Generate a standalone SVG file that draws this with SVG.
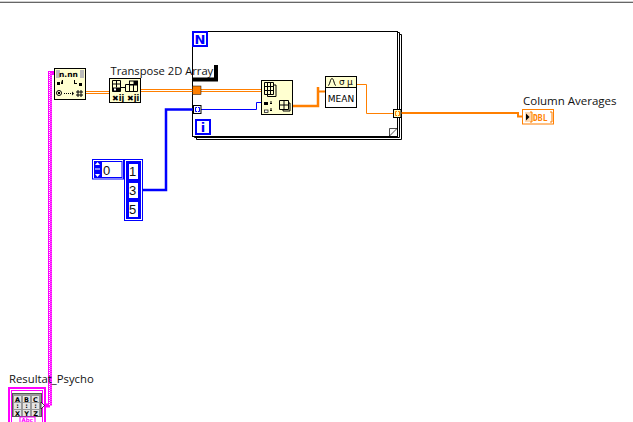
<svg xmlns="http://www.w3.org/2000/svg" width="633" height="422" viewBox="0 0 633 422">
<style>
text{font-family:"Open Sans","Liberation Sans",sans-serif;font-size:11.500px;fill:#111}
.y{fill:#ffffd0;stroke:#000;stroke-width:1}
.g{font-family:"DejaVu Sans","Liberation Sans",sans-serif;font-weight:700;font-size:8px;fill:#000}
.fr{fill:#fff;stroke:#000;stroke-width:1}
.o{fill:none;stroke:#ff7f00}
.b{fill:none;stroke:#0000ff}
.i{fill:none;stroke:#000;stroke-width:1}
.bn{font-family:"DejaVu Sans","Liberation Sans",sans-serif;font-weight:700;font-size:13px;fill:#0000ff;text-anchor:middle}
.num{font-family:"Liberation Sans",sans-serif;font-size:13px;fill:#111;text-anchor:middle}
.s{font-family:"DejaVu Sans","Liberation Sans",sans-serif;font-weight:700;font-size:6.500px;fill:#000;text-anchor:middle}
</style>
<rect width="633" height="422" fill="#fff"/>
<rect x="0" y="1" width="633" height="1" fill="#cfcfcf"/>
<rect x="0" y="2" width="633" height="1" fill="#666"/>

<g id="for-loop">
<path class="fr" d="M196.500 139.500H401.500V34.500H398.500V136.500H196.500Z"/>
<path class="fr" d="M194.500 137.500H399.500V32.500H397.500V135.500H194.500Z"/>
<rect class="fr" x="192.500" y="31.500" width="205" height="105"/>
<path d="M389.500 136V128.500H397Z" fill="#fff"/>
<path d="M389.500 136V128.500H397M389.500 136L397 128.500" fill="none" stroke="#000" stroke-width="0.700"/>
<rect x="193" y="32" width="14" height="14" fill="#fff" stroke="#0000ff" stroke-width="2"/>
<text class="bn" x="200" y="44">N</text>
<rect x="196" y="120" width="14" height="14" fill="#fff" stroke="#0000ff" stroke-width="2"/>
<text class="bn" x="203" y="132">i</text>
<path d="M193 77.500H214V65H218V81.500H193Z" fill="#000"/>
</g>

<g id="connectors">
<path d="M50 71V405.500M50 73H55M42 405.500H50" fill="none" stroke="#ff00ff" stroke-width="4"/>
<path d="M49.500 72V405" fill="none" stroke="#fff" stroke-width="1" stroke-dasharray="1 1"/>
<path d="M51 72V405" fill="none" stroke="#fff" stroke-width="0.600" stroke-dasharray="1 1" stroke-dashoffset="1"/>
<path class="o" d="M85 91.500H109M85 93.500H109M141 89.500H193M141 91.500H193M201 89.500H261M201 91.500H261" stroke-width="1"/>
<path class="b" d="M143 190H166V109.500H193" stroke-width="2.500"/>
<path class="b" d="M201 109.500H256.500V102.500H261" stroke-width="1"/>
<path class="o" d="M293 106H318V87" stroke-width="2.500"/>
<path class="o" d="M318 91.500H325" stroke-width="2"/>
<path class="o" d="M356.500 84.500H366.500V113.500H393.500" stroke-width="1"/>
<path class="o" d="M401 113H518V116.500H522" stroke-width="2"/>
</g>

<g id="read-file">
<rect class="y" x="54.500" y="68.500" width="31" height="31"/>
<rect x="56" y="70" width="28" height="8" fill="#bbb"/>
<rect x="60" y="70" width="20" height="8" fill="#ffffd0"/>
<text class="g" x="59" y="77" style="font-size:7.500px">n.nn</text>
<path d="M57 82h3v3h-3zM62 80h1v4h-2v-1zM74 80h1v3h2v1h-3zM79 83h3v3h-3z" fill="#000"/>
<circle cx="59" cy="93" r="2.500" fill="none" stroke="#000"/>
<rect x="58" y="92" width="2" height="2" fill="#000"/>
<path d="M64 93.500h9" stroke="#000" stroke-dasharray="1 1"/>
<path d="M72 91.500l2 2-2 2z" fill="#000"/>
<path d="M78 90v7M81 90v7M76 92h7M76 95h7" stroke="#000" stroke-width="1"/>
</g>

<g id="transpose">
<text x="110.500" y="74.500" style="font-size:11.200px">Transpose 2D Array</text>
<rect class="y" x="109.500" y="78.500" width="31" height="24"/>
<path d="M112.500 80.500h8v11h-8zM116.500 80.500v7M112.500 84h8" class="i"/>
<rect x="112.500" y="87.500" width="8" height="4" fill="#000"/>
<rect x="114" y="88.500" width="2" height="2" fill="#fff"/>
<path d="M125.500 84.500h12v7h-12zM129.500 84.500v7M133.500 84.500v7" class="i"/>
<rect x="133.500" y="81" width="4" height="4" fill="#000"/>
<rect x="129.500" y="81" width="8" height="4" fill="none" stroke="#000"/>
<path d="M120 87.500h6" stroke="#000"/>
<text class="g" x="112" y="100.500">✖ij</text>
<text class="g" x="127" y="100.500">✖ji</text>
</g>

<g id="tunnels">
<rect x="192.500" y="86" width="8.500" height="8.500" fill="#ff7f00" stroke="#000" stroke-width="0.500"/>
<rect x="193.500" y="105.500" width="7.500" height="8" fill="#fff" stroke="#000"/>
<path d="M197 107.500h-1.500v4H197M198 107.500h1.500v4H198" fill="none" stroke="#0000ff"/>
<rect x="393.500" y="109.500" width="7.500" height="8" fill="#ffffc0" stroke="#000"/>
<path d="M397 111.500h-1.500v4H397M398 111.500h1.500v4H398" fill="none" stroke="#ff7f00"/>
</g>

<g id="array-subset">
<rect class="y" x="261.500" y="80.500" width="31" height="34"/>
<path class="i" d="M264.500 82.500h9v12h-9zM264.500 86.500h9M264.500 90.500h9M267.500 82.500v12M270.500 82.500v12M273.500 85h2.500v11.500h-8.500v-2"/>
<rect x="264" y="102" width="4" height="3" fill="#000"/>
<rect x="264.500" y="110" width="3.500" height="2.500" fill="#fff" stroke="#000" stroke-width="0.700"/>
<path class="i" d="M270 103.500h2M271 101v3M270 110.500h2M271 108v3M279.500 100.500h9v9h-9zM279.500 105h9M284 100.500v9M288.500 103h1.500v8h-7v-1"/>
</g>

<g id="mean">
<rect x="325.500" y="76.500" width="31" height="31" fill="#fff" stroke="#000"/>
<rect x="325.500" y="76.500" width="31" height="11" fill="#ffffd0" stroke="#000"/>
<path class="i" d="M328 85.500c2 0 2-7 4-7s2 7 4 7"/>
<text x="339" y="85" style="font-size:9px;font-family:'DejaVu Sans';fill:#000">σ</text>
<text x="347" y="85" style="font-size:9px;font-family:'DejaVu Sans';fill:#000">μ</text>
<text x="341" y="101.500" style="font-family:'DejaVu Sans';font-size:9px;fill:#000;text-anchor:middle">MEAN</text>
</g>

<g id="column-averages">
<text x="523" y="105">Column Averages</text>
<rect x="522.500" y="109.500" width="31" height="14.500" fill="#fff" stroke="#ff7f00" stroke-width="1"/>
<rect x="525" y="112" width="7" height="10" fill="#ffd9b0"/>
<path d="M526 113.500l3.500 3.500-3.500 3.500z" fill="#000"/>
<path d="M532 112h-2M532 122h-2M532 112v10M550 112h2v10h-2" fill="none" stroke="#ff7f00"/>
<text x="533" y="120.500" style="font-family:'DejaVu Sans Mono';font-weight:700;font-size:8px;fill:#ff7f00">DBL</text>
</g>

<g id="index-control">
<rect x="92.500" y="159.500" width="31" height="19.500" fill="#fff" stroke="#0000ff"/>
<rect x="94" y="161" width="7" height="17" fill="#0000ff"/>
<path d="M97.500 162l2.500 3h-5zM97.500 177l-2.500-3h5z" fill="#fff"/>
<rect x="95" y="168.500" width="5" height="1" fill="#fff"/>
<rect x="101.500" y="161.500" width="20.500" height="16" fill="#fff" stroke="#0000ff"/>
<text class="num" x="106.500" y="175">0</text>
</g>

<g id="array-constant">
<rect x="124.500" y="159.500" width="18" height="61" fill="#fff" stroke="#0000ff"/>
<rect x="126" y="161" width="15" height="58" fill="#0000ff"/>
<rect x="129" y="164" width="9" height="15" fill="#fff"/>
<rect x="129" y="183" width="9" height="15" fill="#fff"/>
<rect x="129" y="202" width="9" height="15" fill="#fff"/>
<text class="num" x="132.500" y="176">1</text>
<text class="num" x="132.500" y="195">3</text>
<text class="num" x="132.500" y="214">5</text>
</g>

<g id="resultat-psycho">
<text x="9" y="382.500" style="font-size:11.300px">Resultat_Psycho</text>
<rect x="9" y="388" width="36" height="40" fill="#fff" stroke="#ff00ff" stroke-width="2"/>
<rect x="11.500" y="390.500" width="31" height="40" fill="none" stroke="#ff00ff" stroke-width="1"/>
<rect x="12.500" y="393.500" width="29" height="23" fill="#999" stroke="#555"/>
<g fill="#e4e4e4">
<rect x="14" y="396" width="7" height="6"/><rect x="23" y="396" width="7" height="6"/><rect x="32" y="396" width="7" height="6"/>
<rect x="14" y="403" width="7" height="6"/><rect x="23" y="403" width="7" height="6"/><rect x="32" y="403" width="7" height="6"/>
<rect x="14" y="410" width="7" height="6"/><rect x="23" y="410" width="7" height="6"/><rect x="32" y="410" width="7" height="6"/>
</g>
<text class="s" x="17.500" y="401.500">A</text><text class="s" x="26.500" y="401.500">B</text><text class="s" x="35.500" y="401.500">C</text>
<text class="s" x="17.500" y="408">:</text><text class="s" x="26.500" y="408">:</text><text class="s" x="35.500" y="408">:</text>
<text class="s" x="17.500" y="415.500">X</text><text class="s" x="26.500" y="415.500">Y</text><text class="s" x="35.500" y="415.500">Z</text>
<path d="M41 402l3.500 3.500-3.500 3.500z" fill="#fff" stroke="#000" stroke-width="0.700"/>
<rect x="20" y="417" width="15" height="8" fill="#fff" stroke="#ff00ff"/>
<text x="21.500" y="421.500" style="font-family:'DejaVu Sans';font-weight:700;font-size:5.500px;fill:#ff00ff">Abc</text>
</g>
</svg>
